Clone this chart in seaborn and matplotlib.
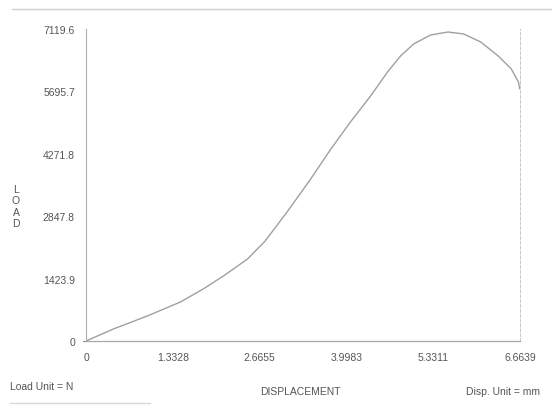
import matplotlib
matplotlib.use("Agg")
import matplotlib.pyplot as plt
import seaborn as sns
import pandas as pd
from matplotlib.lines import Line2D

# Data
displacement = [0.0, 0.42, 0.94, 1.45, 1.80, 2.11, 2.48, 2.75, 3.09, 3.45, 3.76,
                4.06, 4.37, 4.63, 4.83, 5.03, 5.29, 5.56, 5.80, 6.06, 6.33,
                6.53, 6.64, 6.66]
load = [0, 274, 570, 890, 1187, 1483, 1871, 2280, 2950, 3697, 4381,
        4998, 5591, 6139, 6504, 6777, 6983, 7051, 7006, 6823, 6504,
        6207, 5910, 5751]
x_ticks = [0, 1.3328, 2.6655, 3.9983, 5.3311, 6.6639]
x_tick_labels = ["0", "1.3328", "2.6655", "3.9983", "5.3311", "6.6639"]
y_ticks = [0, 1423.9, 2847.8, 4271.8, 5695.7, 7119.6]
y_tick_labels = ["0", "1423.9", "2847.8", "4271.8", "5695.7", "7119.6"]

sns.set_style("white")
plt.rcParams['font.family'] = ['Liberation Sans', 'DejaVu Sans']

txt = "#555555"
fig = plt.figure(figsize=(5.52, 4.06), dpi=100)
ax = fig.add_axes([86/552, 1 - 342/406, (520 - 86)/552, (342 - 30)/406])

df = pd.DataFrame({"DISPLACEMENT": displacement, "LOAD": load})
sns.lineplot(data=df, x="DISPLACEMENT", y="LOAD", ax=ax, color="#a0a0a0",
             linewidth=1.0, sort=False)

ax.set_xlim(0, 6.6639)
ax.set_ylim(0, 7119.6)
ax.set_xticks(x_ticks)
ax.set_xticklabels(x_tick_labels)
ax.set_yticks(y_ticks)
ax.set_yticklabels(y_tick_labels)
ax.tick_params(axis="both", labelsize=7.5, labelcolor=txt, length=0, pad=8)
ax.set_xlabel("")
ax.set_ylabel("")

ax.spines["top"].set_visible(False)
ax.spines["left"].set_color("#b0b0b0")
ax.spines["left"].set_linewidth(0.8)
ax.spines["bottom"].set_color("#a8a8a8")
ax.spines["bottom"].set_linewidth(0.9)
ax.spines["right"].set_color("#c8c8c8")
ax.spines["right"].set_linewidth(0.7)
ax.spines["right"].set_linestyle((0, (3, 2)))

# small tick mark at origin
ax.plot([-0.04, 0.0], [0, 0], color="#888888", lw=0.8, clip_on=False)

# texts
fig.text(300/552, 1 - 392/406, "DISPLACEMENT", ha="center", va="center",
         fontsize=7.5, color=txt)
fig.text(10/552, 1 - 387/406, "Load Unit = N", ha="left", va="center",
         fontsize=7.5, color=txt)
fig.text(540/552, 1 - 392/406, "Disp. Unit = mm", ha="right", va="center",
         fontsize=7.5, color=txt)
fig.text(16/552, 1 - 207/406, "L\nO\nA\nD", ha="center", va="center",
         fontsize=7.5, color=txt, linespacing=1.15)

# scan frame lines
fig.add_artist(Line2D([12/552, 1.0], [1 - 10/406, 1 - 10/406],
                      transform=fig.transFigure, color="#d0d0d0", lw=1.0))
fig.add_artist(Line2D([10/552, 150/552], [1 - 404/406, 1 - 404/406],
                      transform=fig.transFigure, color="#d8d8d8", lw=1.0))

fig.savefig("out.png", dpi=100, facecolor="white")
